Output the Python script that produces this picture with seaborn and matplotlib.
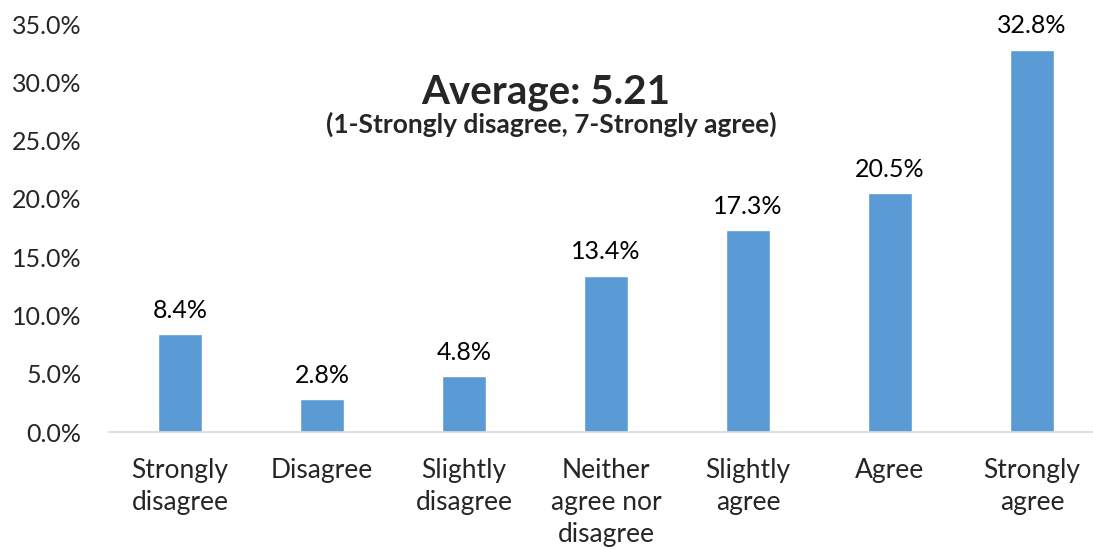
import pandas as pd
import matplotlib
matplotlib.use("Agg")
import matplotlib.pyplot as plt
import seaborn as sns

# --------------------------------
# DATA
# --------------------------------
categories = [
    "Strongly\ndisagree",
    "Disagree",
    "Slightly\ndisagree",
    "Neither\nagree nor\ndisagree",
    "Slightly\nagree",
    "Agree",
    "Strongly\nagree",
]

shares = [8.4, 2.8, 4.8, 13.4, 17.3, 20.5, 32.8]

y_ticks = [0, 5, 10, 15, 20, 25, 30, 35]

title = "Average: 5.21"
subtitle = "(1-Strongly disagree, 7-Strongly agree)"

df = pd.DataFrame({"answer": categories, "share": shares})

sns.set_style("white")
plt.rcParams["font.family"] = ["Lato", "DejaVu Sans"]

fig = plt.figure(figsize=(10.93, 5.49), dpi=100)
ax = fig.add_axes([0.0997, 0.213, 0.9003, 0.743])

sns.barplot(
    data=df,
    x="answer",
    y="share",
    color="#5B9BD5",
    saturation=1,
    width=0.31,
    ax=ax,
)

# value labels
for i, v in enumerate(shares):
    ax.annotate(
        f"{v:.1f}%",
        xy=(i, v),
        xytext=(0, 9),
        textcoords="offset points",
        ha="center",
        va="bottom",
        fontsize=18,
        color="#000000",
    )

ax.set_ylim(0, 35)
ax.set_xlim(-0.5, 6.43)
ax.set_yticks(y_ticks)
ax.set_yticklabels([f"{t:.1f}%" for t in y_ticks], fontsize=18)
ax.set_xticks(range(len(categories)))
ax.set_xticklabels(categories, fontsize=19, linespacing=1.35, va="top")
ax.tick_params(axis="y", length=0, pad=20)
ax.tick_params(axis="x", length=0, pad=19)
ax.set_xlabel("")
ax.set_ylabel("")

for side in ["top", "right", "left"]:
    ax.spines[side].set_visible(False)
ax.spines["bottom"].set_color("#D9D9D9")
ax.spines["bottom"].set_linewidth(1.2)

fig.text(0.4995, 0.812, title, ha="center", va="baseline",
         fontsize=29, fontweight="bold")
fig.text(0.5045, 0.759, subtitle, ha="center", va="baseline",
         fontsize=19, fontweight="bold")

fig.savefig("out.png", dpi=100)
plt.close(fig)
